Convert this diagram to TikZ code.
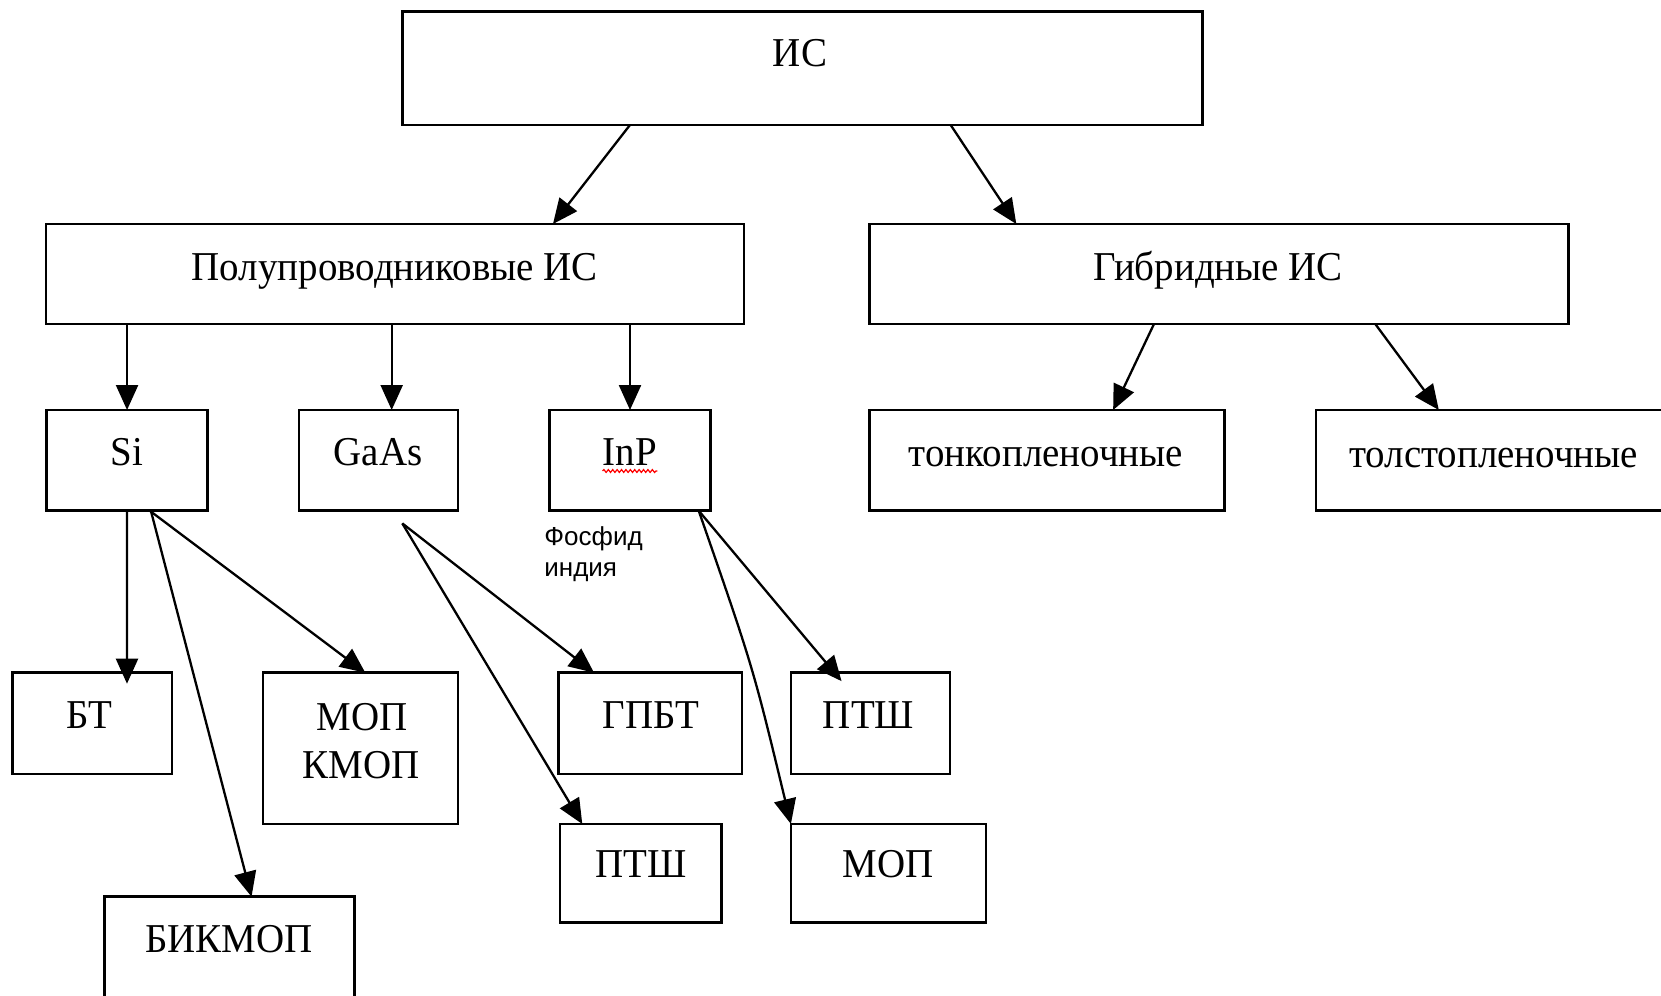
\documentclass[tikz,border=0pt]{standalone}
\usepackage{fontspec}
\setmainfont{Liberation Serif}[FakeStretch=0.95]
\newfontfamily\arialfont{Liberation Sans}
\usetikzlibrary{arrows.meta,calc,decorations.pathmorphing}
\begin{document}
\begin{tikzpicture}[x=0.5pt,y=-0.5pt,
  box/.style={draw=black, line width=1.25pt, rectangle, inner sep=0pt, outer sep=0pt},
  lbl/.style={inner sep=0pt, anchor=base, font=\fontsize{20.5}{24}\selectfont},
  sanslbl/.style={inner sep=0pt, anchor=base west, font=\arialfont\fontsize{13}{15.8}\selectfont},
  arr/.style={line width=1.15pt, -{Triangle[length=12.5pt,width=11pt]}},
  wavy/.style={red, line width=0.6pt, decorate, decoration={snake, amplitude=0.7pt, segment length=2.2pt}}]
\clip (0,0) rectangle (1661,996);
\fill[white] (0,0) rectangle (1661,996);

% boxes
\node[box, minimum width=399.9pt, minimum height=56.65pt] (ic) at (802.4,68.35) {};
\node[box, minimum width=349pt, minimum height=50pt] (ppr) at (394.8,274) {};
\node[box, minimum width=349.4pt, minimum height=50pt] (gib) at (1219.1,274) {};
\node[box, minimum width=80.45pt, minimum height=50.35pt] (si) at (127.05,460.35) {};
\node[box, minimum width=79.4pt, minimum height=50.35pt] (gaas) at (378.5,460.35) {};
\node[box, minimum width=80.45pt, minimum height=50.35pt] (inp) at (630,460.35) {};
\node[box, minimum width=177.35pt, minimum height=50.35pt] (tonk) at (1047,460.35) {};
\node[box, minimum width=177.5pt, minimum height=50.35pt] (tolst) at (1493.5,460.35) {};
\node[box, minimum width=79.65pt, minimum height=50.65pt] (bt) at (92.35,723.35) {};
\node[box, minimum width=97.4pt, minimum height=75.65pt] (mk) at (360.5,748.35) {};
\node[box, minimum width=125.2pt, minimum height=56.65pt] (bik) at (229.5,953.35) {};
\node[box, minimum width=91.75pt, minimum height=50.65pt] (gpbt) at (650.25,723.35) {};
\node[box, minimum width=80.75pt, minimum height=49.35pt] (ptsh1) at (640.75,873.35) {};
\node[box, minimum width=79.55pt, minimum height=50.65pt] (ptsh2) at (870.45,723.35) {};
\node[box, minimum width=97.5pt, minimum height=49.35pt] (mop) at (888.4,873.35) {};

% texts
\node[lbl] (ic-t) at (800,66.7) {ИС};
\node[lbl] (ppr-t) at (394.8,280) {Полупроводниковые ИС};
\node[lbl] (gib-t) at (1218,280) {Гибридные ИС};
\node[lbl] (si-t) at (127,465) {Si};
\node[lbl] (gaas-t) at (378,465) {GaAs};
\node[lbl] (inp-t) at (630,465) {InP};
\node[lbl] (tonk-t) at (1046,466) {тонкопленочные};
\node[lbl] (tolst-t) at (1493.6,467) {толстопленочные};
\node[lbl] (bt-t) at (89,728) {БТ};
\node[lbl] (mk-t1) at (362,730) {МОП};
\node[lbl] (mk-t2) at (361,778) {КМОП};
\node[lbl] (bik-t) at (229,952.7) {БИКМОП};
\node[lbl] (gpbt-t) at (651,728) {ГПБТ};
\node[lbl] (ptsh1-t) at (641,877) {ПТШ};
\node[lbl] (ptsh2-t) at (868.5,728) {ПТШ};
\node[lbl] (mop-t) at (888,877) {МОП};
\node[sanslbl] (fos1) at (544,545) {Фосфид};
\node[sanslbl] (fos2) at (544,576.7) {индия};

% spell-check underline
\draw[wavy] ($(inp-t.base west)+(0,6)$) -- ($(inp-t.base east)+(0,6)$);

% connectors
\draw[arr] ($(ic.south west)!0.2844!(ic.south east)$) -- ($(ppr.north west)!0.7266!(ppr.north east)$);
\draw[arr] ($(ic.south west)!0.6854!(ic.south east)$) -- ($(gib.north west)!0.2098!(gib.north east)$);

\draw[arr] (si.north |- ppr.south) -- (si.north);
\coordinate (gaasin) at ($(gaas.north west)!0.583!(gaas.north east)$);
\draw[arr] (gaasin |- ppr.south) -- (gaasin);
\draw[arr] (inp.north |- ppr.south) -- (inp.north);

\draw[arr] ($(gib.south west)!0.4068!(gib.south east)$) -- ($(tonk.north west)!0.6865!(tonk.north east)$);
\draw[arr] ($(gib.south west)!0.7235!(gib.south east)$) -- ($(tolst.north west)!0.346!(tolst.north east)$);

\draw[arr, shorten >=-5.5pt] (si.south) -- ($(bt.north west)!0.7175!(bt.north east)$);
\draw[arr] ($(si.south west)!0.641!(si.south east)$) -- ($(mk.north west)!0.5246!(mk.north east)$);
\draw[arr] ($(si.south west)!0.648!(si.south east)$) -- ($(bik.north west)!0.588!(bik.north east)$);

\coordinate (gsrc) at ($(gaas.south west)!0.65!(gaas.south east)+(0,12.7)$);
\draw[arr] (gsrc) -- ($(gpbt.north west)!0.1935!(gpbt.north east)$);
\draw[arr] (gsrc) -- ($(ptsh1.north west)!0.138!(ptsh1.north east)$);

\coordinate (isrc) at ($(inp.south west)!0.927!(inp.south east)$);
\draw[arr, shorten >=-5.5pt] (isrc) -- ($(ptsh2.north west)!0.274!(ptsh2.north east)$);
\draw[arr] (isrc) .. controls (753,667) .. (mop.north west);
\end{tikzpicture}
\end{document}
